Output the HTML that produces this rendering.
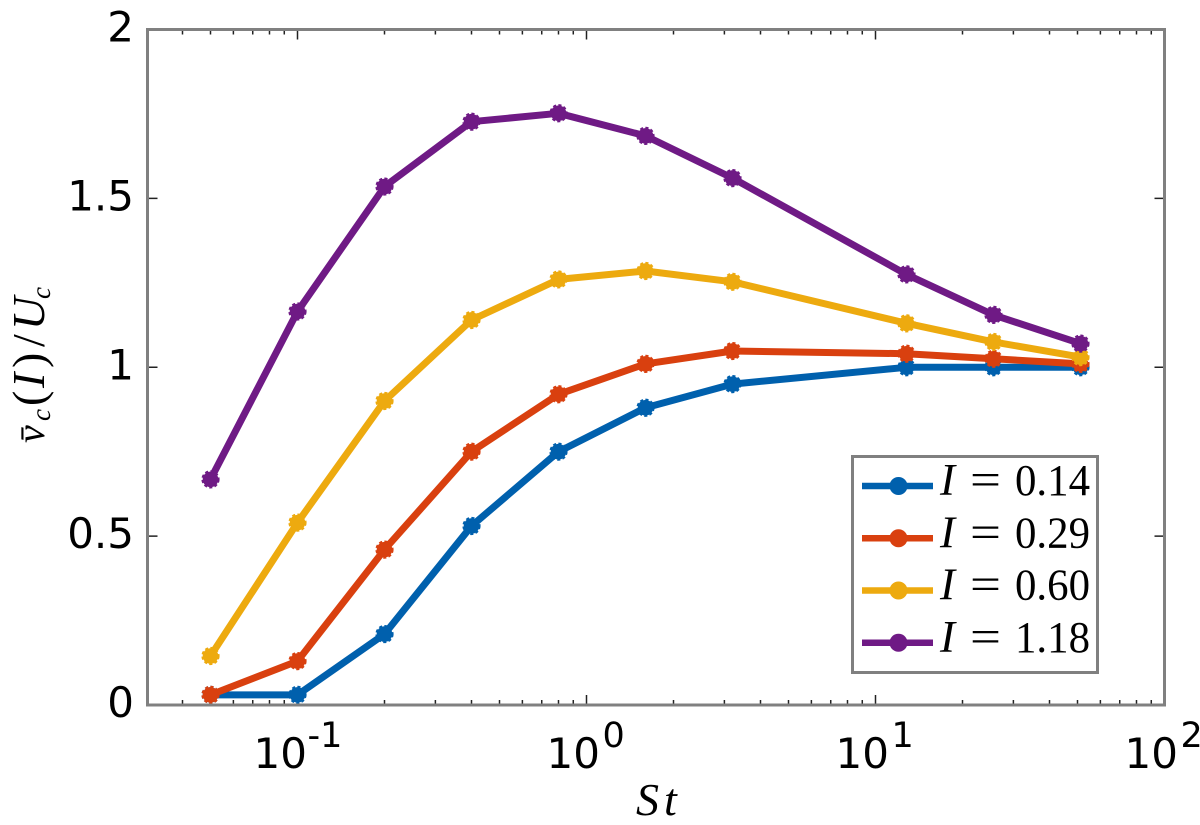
<!DOCTYPE html>
<html>
<head>
<meta charset="utf-8">
<style>
html,body{margin:0;padding:0;background:#fff;width:1200px;height:825px;overflow:hidden}
svg{display:block}
.tick-text{font-family:"DejaVu Sans",sans-serif;font-size:42px;fill:#000}
.math{font-family:"Liberation Serif",serif;fill:#000}
</style>
</head>
<body>
<svg id="chart" width="1200" height="825" viewBox="0 0 1200 825" xmlns="http://www.w3.org/2000/svg">
<rect x="0" y="0" width="1200" height="825" fill="#fff"/>
<g id="ticks"></g>
<g id="labels"></g>
<g id="series"></g>
<rect id="frame" x="147.5" y="29.5" width="1017" height="675.5" fill="none" stroke="#808080" stroke-width="3"/>
<g id="legend"></g>
<text class="math" y="815" font-size="46" font-style="italic"><tspan x="636">S</tspan><tspan x="664">t</tspan></text>
<text class="math" transform="translate(44,442) rotate(-90)" font-size="46" font-style="italic"><tspan x="-1" font-size="40">v̄</tspan><tspan x="21" font-size="27" dy="6">c</tspan><tspan x="36" dy="-6" font-style="normal">(</tspan><tspan x="54">I</tspan><tspan x="74" font-style="normal">)</tspan><tspan x="95" font-style="normal">/</tspan><tspan x="112">U</tspan><tspan x="143" font-size="27" dy="6">c</tspan></text>
</svg>
<script>
var stValues = [0.05, 0.1, 0.2, 0.4, 0.8, 1.6, 3.2, 12.8, 25.6, 51.2];
var seriesI014 = [0.03, 0.03, 0.21, 0.53, 0.75, 0.88, 0.95, 1.0, 1.0, 1.0];
var seriesI029 = [0.03, 0.13, 0.46, 0.75, 0.92, 1.01, 1.048, 1.04, 1.025, 1.01];
var seriesI060 = [0.145, 0.54, 0.9, 1.14, 1.26, 1.285, 1.253, 1.13, 1.075, 1.03];
var seriesI118 = [0.668, 1.165, 1.535, 1.727, 1.752, 1.685, 1.56, 1.275, 1.155, 1.07];
var seriesNames = ["0.14", "0.29", "0.60", "1.18"];
var seriesColors = ["#0060ad", "#d9400f", "#edaa0f", "#6f1a85"];
var yTicks = [0, 0.5, 1, 1.5, 2];
var yTickLabels = ["0", "0.5", "1", "1.5", "2"];
var xMajorExponents = [-1, 0, 1, 2];
var xMinorMultipliers = [2, 3, 4, 5, 6, 7, 8, 9];
var xMinorDecades = [-2, -1, 0, 1];

var NS = "http://www.w3.org/2000/svg";
var plotLeft = 147.5, plotRight = 1164.5, plotTop = 29.5, plotBottom = 705;

function xScale(v) {
  return 1164.5 - (2 - Math.log10(v)) * 289;
}
function yScale(v) {
  return plotBottom - (v / 2) * (plotBottom - plotTop);
}
function make(tag, attrs, parent) {
  var el = document.createElementNS(NS, tag);
  for (var k in attrs) { el.setAttribute(k, attrs[k]); }
  parent.appendChild(el);
  return el;
}
function marker(parent, x, y, color) {
  var m = make("circle", {cx: x, cy: y, r: 7.8, fill: color, stroke: color, "stroke-width": 2.6, "stroke-dasharray": "3 2.2"}, parent);
  
  
  return m;
}

var ticksG = document.getElementById("ticks");
var labelsG = document.getElementById("labels");
var seriesG = document.getElementById("series");
var legendG = document.getElementById("legend");

yTicks.forEach(function (t, i) {
  var y = yScale(t);
  if (t > 0 && t < 2) {
    var a = make("line", {x1: plotLeft, x2: plotLeft + 10, y1: y, y2: y, stroke: "#222", "stroke-width": 1.5}, ticksG);
    
    
    var b = make("line", {x1: plotRight, x2: plotRight - 10, y1: y, y2: y, stroke: "#222", "stroke-width": 1.5}, ticksG);
    
    
  }
  var lab = make("text", {x: 134, y: y + 12, "text-anchor": "end", "class": "tick-text"}, labelsG);
  
  
  lab.textContent = yTickLabels[i];
});

function xTick(v, len) {
  var x = xScale(v);
  var a = make("line", {x1: x, x2: x, y1: plotBottom, y2: plotBottom - len, stroke: "#222", "stroke-width": 1.5}, ticksG);
  
  
  var b = make("line", {x1: x, x2: x, y1: plotTop, y2: plotTop + len, stroke: "#222", "stroke-width": 1.5}, ticksG);
  
  
}
xMinorDecades.forEach(function (d) {
  xMinorMultipliers.forEach(function (m) {
    var v = m * Math.pow(10, d);
    if (v > 0.03) { xTick(v, 5); }
  });
});
xMajorExponents.forEach(function (e) {
  var v = Math.pow(10, e);
  if (e < 2) { xTick(v, 10); }
  var x = xScale(v);
  var base = make("text", {x: e < 0 ? x - 44 : x - 40, y: 768, "class": "tick-text"}, labelsG);
  
  
  base.textContent = "10";
  var sup = make("text", {x: e < 0 ? x + 10 : x + 16, y: 747, "class": "tick-text", style: "font-size:35px"}, labelsG);
  
  
  sup.textContent = e < 0 ? "-" + Math.abs(e) : String(e);
});

[seriesI014, seriesI029, seriesI060, seriesI118].forEach(function (vals, i) {
  var g = make("g", {}, seriesG);
  
  
  var pts = vals.map(function (v, j) { return xScale(stValues[j]).toFixed(1) + "," + yScale(v).toFixed(1); }).join(" ");
  var line = make("polyline", {points: pts, fill: "none", stroke: seriesColors[i], "stroke-width": 7, "stroke-linejoin": "round"}, g);
  
  
  vals.forEach(function (v, j) { marker(g, xScale(stValues[j]), yScale(v), seriesColors[i]); });
});

var box = make("rect", {x: 852.5, y: 456.5, width: 245, height: 216, fill: "#fff", stroke: "#808080", "stroke-width": 3}, legendG);


seriesNames.forEach(function (name, i) {
  var y = 486 + i * 52.25;
  var g = make("g", {}, legendG);
  
  
  var l = make("line", {x1: 862, x2: 933, y1: y, y2: y, stroke: seriesColors[i], "stroke-width": 6.5}, g);
  
  
  var c = make("circle", {cx: 898.5, cy: y, r: 9, fill: seriesColors[i]}, g);
  
  
  var t1 = make("text", {x: 940, y: y + 9, "class": "math", "font-size": 45, "font-style": "italic"}, g);
  
  
  t1.textContent = "I";
  var t2 = make("text", {x: 970, y: y + 9, "class": "math", "font-size": 45, textLength: 31, lengthAdjust: "spacingAndGlyphs"}, g);
  
  
  t2.textContent = "=";
  var t3 = make("text", {x: 1015, y: y + 9, "class": "math", "font-size": 44, textLength: 75, lengthAdjust: "spacingAndGlyphs"}, g);
  
  
  t3.textContent = name;
});
</script>
</body>
</html>
